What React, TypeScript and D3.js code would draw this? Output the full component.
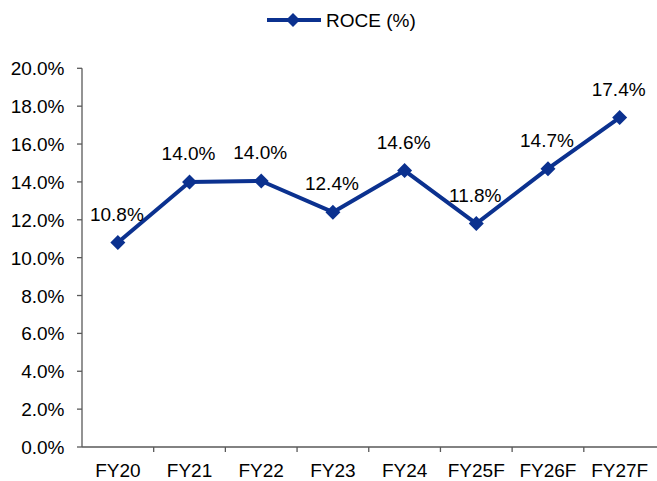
import React from "react";
import * as d3 from "d3";

const categories = ["FY20", "FY21", "FY22", "FY23", "FY24", "FY25F", "FY26F", "FY27F"];
const roce = [10.8, 14.0, 14.05, 12.4, 14.6, 11.8, 14.7, 17.4];
const labels = ["10.8%", "14.0%", "14.0%", "12.4%", "14.6%", "11.8%", "14.7%", "17.4%"];
const yTicks = [0, 2, 4, 6, 8, 10, 12, 14, 16, 18, 20];
const seriesName = "ROCE (%)";

const W = 657;
const H = 481;
const left = 82;
const right = 655.5;
const top = 68.3;
const bottom = 447;
const color = "#0B318F";
const font = "'Liberation Sans', Arial, sans-serif";
const fs = 19;

export default function App() {
  const x = d3.scaleBand<string>().domain(categories).range([left, right]);
  const y = d3.scaleLinear().domain([0, 20]).range([bottom, top]);
  const line = d3
    .line<number>()
    .x((_, i) => (x(categories[i]) as number) + x.bandwidth() / 2)
    .y((d) => y(d));
  const diamond = (cx: number, cy: number, r: number) =>
    `M${cx},${cy - r}L${cx + r},${cy}L${cx},${cy + r}L${cx - r},${cy}Z`;

  return (
    <svg
      width={W}
      height={H}
      style={{ position: "absolute", left: 0, top: 0, background: "#fff" }}
      fontFamily={font}
    >
      {/* legend */}
      <line x1={267} x2={321} y1={20} y2={20} stroke={color} strokeWidth={4} />
      <path d={diamond(293, 20, 7)} fill={color} />
      <text x={326} y={27.3} fontSize={fs} fill="#000">
        {seriesName}
      </text>

      {/* y axis */}
      <line x1={left} x2={left} y1={top} y2={bottom} stroke="#595959" strokeWidth={1.3} />
      {yTicks.map((t) => (
        <g key={t}>
          <line x1={left - 5} x2={left} y1={y(t)} y2={y(t)} stroke="#595959" strokeWidth={1.3} />
          <text x={64.5} y={y(t) + 7} textAnchor="end" fontSize={fs} fill="#000">
            {t.toFixed(1) + "%"}
          </text>
        </g>
      ))}

      {/* x axis */}
      <line x1={left} x2={W} y1={bottom} y2={bottom} stroke="#595959" strokeWidth={1.3} />
      {categories.map((c, i) => (
        <g key={c}>
          {i > 0 && (
            <line
              x1={x(c) as number}
              x2={x(c) as number}
              y1={bottom}
              y2={bottom + 5}
              stroke="#595959"
              strokeWidth={1.3}
            />
          )}
          <text
            x={(x(c) as number) + x.bandwidth() / 2}
            y={bottom + 30}
            textAnchor="middle"
            fontSize={fs}
            fill="#000"
          >
            {c}
          </text>
        </g>
      ))}

      {/* series */}
      <path d={line(roce) || ""} fill="none" stroke={color} strokeWidth={4} strokeLinejoin="round" />
      {roce.map((v, i) => {
        const cx = (x(categories[i]) as number) + x.bandwidth() / 2;
        const cy = y(v);
        return (
          <g key={i}>
            <path d={diamond(cx, cy, 7.5)} fill={color} />
            <text x={cx - 1} y={cy - 22} textAnchor="middle" fontSize={fs} fill="#000">
              {labels[i]}
            </text>
          </g>
        );
      })}
    </svg>
  );
}
